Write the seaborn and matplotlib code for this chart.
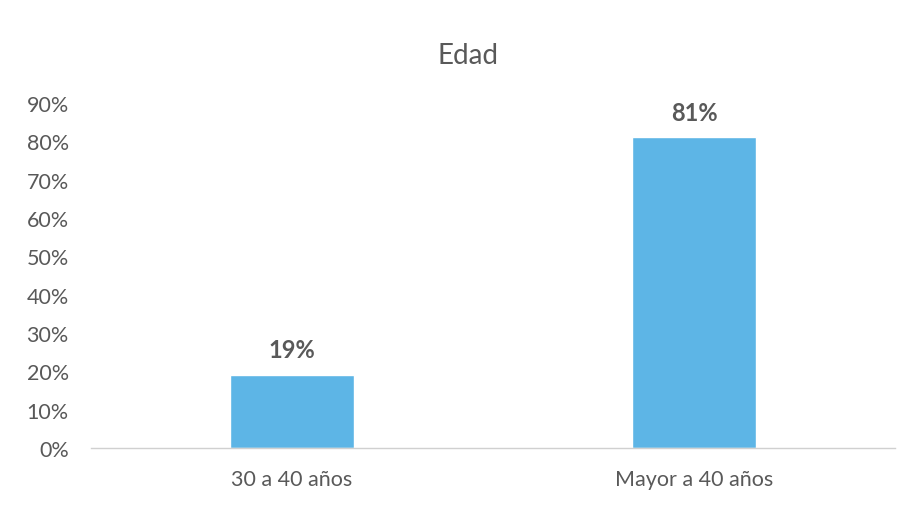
import matplotlib
matplotlib.use("Agg")
import matplotlib.pyplot as plt
import seaborn as sns
import pandas as pd
from matplotlib.ticker import PercentFormatter

categories = ["30 a 40 años", "Mayor a 40 años"]
values = [0.19, 0.81]
bar_labels = ["19%", "81%"]
title = "Edad"

sns.set_theme(style="white")
plt.rcParams['font.family'] = ['Lato', 'DejaVu Sans']

df = pd.DataFrame({"cat": categories, "val": values})

fig = plt.figure(figsize=(9.1, 5.06), dpi=100)
ax = fig.add_axes([0.1, 0.1126, 0.8835, 0.682])
sns.barplot(data=df, x="cat", y="val", color="#5DB5E6", width=0.31,
            saturation=1, ax=ax)
ax.set_xlim(-0.5, 1.5)
ax.set_ylim(0, 0.9)
ax.set_yticks([i / 10 for i in range(10)])
ax.yaxis.set_major_formatter(PercentFormatter(1.0, decimals=0))
ax.set_xlabel("")
ax.set_ylabel("")
for s in ["top", "right", "left"]:
    ax.spines[s].set_visible(False)
ax.spines["bottom"].set_color("#D0D0D0")
ax.spines["bottom"].set_linewidth(1)
ax.tick_params(axis="y", labelsize=15.5, labelcolor="#595959", length=0, pad=16)
ax.tick_params(axis="x", labelsize=15.5, labelcolor="#595959", length=0, pad=15)

for p, lab in zip(ax.patches, bar_labels):
    ax.annotate(lab, (p.get_x() + p.get_width() / 2, p.get_height()),
                xytext=(0, 10), textcoords="offset points", ha="center",
                va="bottom", fontsize=17, fontweight="bold", color="#595959")

fig.text(0.514, 0.89, title, ha="center", va="center", fontsize=20, color="#595959")

fig.savefig("out.png", dpi=100, facecolor="white")
